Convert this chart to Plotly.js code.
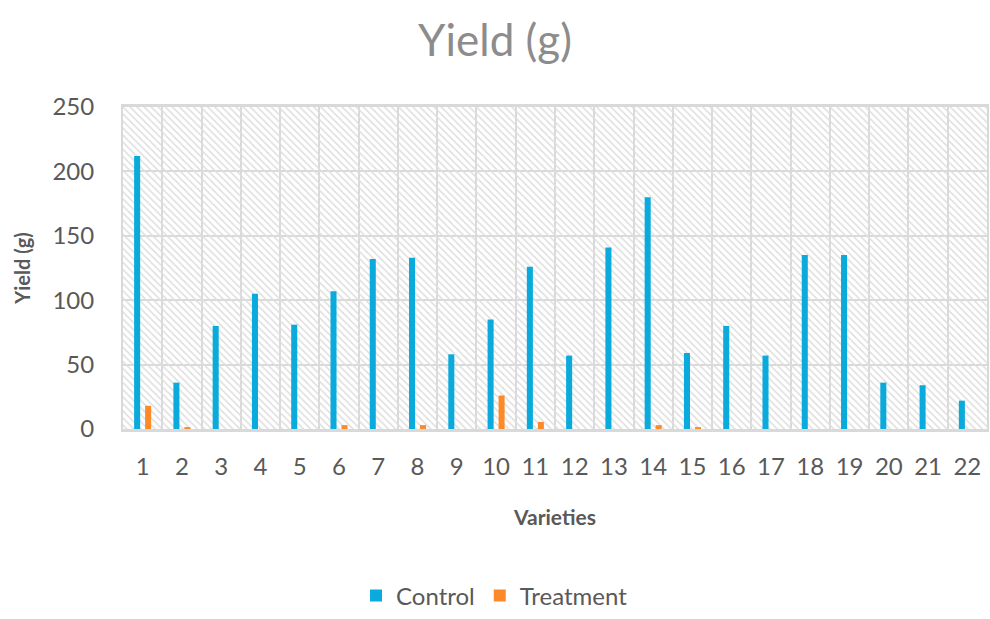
<!DOCTYPE html>
<html>
<head>
<meta charset="utf-8">
<script src="https://cdn.plot.ly/plotly-3.0.1.min.js"></script>
<style>html,body{margin:0;padding:0;background:#fff;}#chart{width:990px;height:619px;}</style>
</head>
<body>
<div id="chart"></div>
<script>
const varieties = ["1","2","3","4","5","6","7","8","9","10","11","12","13","14","15","16","17","18","19","20","21","22"];
const control = [212, 36, 80, 105, 81, 107, 132, 133, 58, 85, 126, 57, 141, 180, 59, 80, 57, 135, 135, 36, 34, 22];
const treatment = [18, 1.5, 0, 0, 0, 3, 0, 3, 0, 26, 5.5, 0, 0, 3, 1.5, 0, 0, 0, 0, 0, 0, 0];
const yMax = 250;

const FONT = "Lato, 'Open Sans', sans-serif";
const bg = {
  type: 'bar', x: varieties, y: varieties.map(() => yMax),
  offset: -0.5, width: 1, hoverinfo: 'skip', showlegend: false,
  marker: {color: 'rgba(0,0,0,0)', line: {width: 0},
    pattern: {shape: '\\', fgcolor: '#dedede', bgcolor: 'rgba(0,0,0,0)', size: 5, solidity: 0.3, fillmode: 'replace'}}
};
const data = [
  bg,
  {type: 'bar', name: 'Control', x: varieties, y: control, marker: {color: '#0aabdc', line: {width: 0}}},
  {type: 'bar', name: 'Treatment', x: varieties, y: treatment, marker: {color: '#fd8a28', line: {width: 0}}}
];
const layout = {
  width: 990, height: 619,
  margin: {l: 123, r: 3, t: 107, b: 189},
  paper_bgcolor: '#ffffff', plot_bgcolor: '#ffffff',
  barmode: 'group', bargap: 0.44, bargroupgap: 0.45,
  title: {text: 'Yield (g)', x: 0.5, xanchor: 'center', y: 0.935, yanchor: 'middle',
    font: {family: FONT, size: 44, color: '#8c8c8c'}},
  font: {family: FONT, color: '#595959'},
  xaxis: {
    type: 'category', tickson: 'boundaries', showgrid: true, gridcolor: '#d9d9d9', gridwidth: 2,
    automargin: false,
    ticks: '', ticklen: 0, ticklabelstandoff: 14, showline: true, linecolor: '#d9d9d9', linewidth: 3, mirror: true,
    tickfont: {family: FONT, size: 24, color: '#595959'},
    title: {text: 'Varieties', standoff: 32, font: {family: FONT, size: 21, color: '#595959', weight: 'bold'}}
  },
  yaxis: {
    range: [0, yMax], dtick: 50, showgrid: true, gridcolor: '#d9d9d9', gridwidth: 2,
    automargin: false,
    zeroline: false, showline: true, linecolor: '#d9d9d9', linewidth: 2, mirror: true,
    ticks: '', ticklabelstandoff: 22, tickfont: {family: FONT, size: 24, color: '#595959'},
    title: {text: 'Yield (g)', standoff: 16, font: {family: FONT, size: 20, color: '#595959', weight: 'bold'}}
  },
  legend: {orientation: 'h', x: 0.43, xanchor: 'center', y: -0.583, yanchor: 'bottom',
    font: {family: FONT, size: 24, color: '#595959'}, itemwidth: 30, tracegroupgap: 0},
  showlegend: true
};
Plotly.newPlot('chart', data, layout, {displayModeBar: false, staticPlot: true});
</script>
</body>
</html>
